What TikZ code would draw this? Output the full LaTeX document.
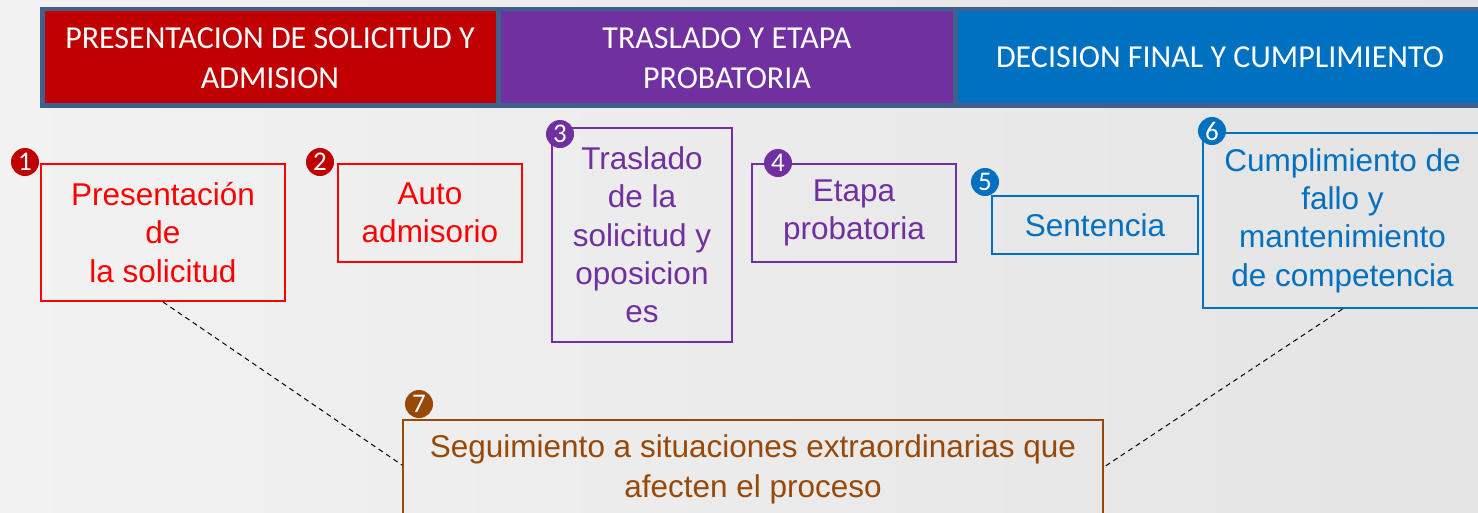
\documentclass[tikz,border=0pt]{standalone}
\usepackage{fontspec}
\setmainfont{Liberation Sans}
\newfontfamily\hdr{Carlito}
\definecolor{bgA}{HTML}{F2F2F2}
\definecolor{bgB}{HTML}{E4E4E4}
\definecolor{frame}{HTML}{3F608A}
\definecolor{phRed}{HTML}{C00000}
\definecolor{phPur}{HTML}{7030A0}
\definecolor{phBlu}{HTML}{0070C0}
\definecolor{bxRed}{HTML}{FF0000}
\definecolor{bxBrn}{HTML}{984807}
\tikzset{
  phase/.style={fill=#1, draw=none, text=white, align=center, inner sep=0pt,
    minimum height=92pt, font=\hdr\fontsize{32}{40.5}\selectfont},
  stepbox/.style={draw=#1, line width=2pt, text=#1, align=center, inner sep=0pt,
    font=\fontsize{31.5}{38.3}\selectfont},
  badge/.style={circle, fill=#1, text=white, inner sep=0pt, minimum size=28pt,
    font=\hdr\fontsize{27}{27}\selectfont},
  link/.style={draw=black, line width=1pt, dash pattern=on 5pt off 4pt}
}
\begin{document}
\begin{tikzpicture}[x=1pt,y=-1pt]
\useasboundingbox (0,0) rectangle (1478,512);
\shade[left color=bgA, right color=bgB] (0,0) rectangle (1478,512);
% header band
\fill[frame] (40,7) rectangle (1490,108);
\node[phase=phRed, minimum width=451pt] (ph1) at (270.5,57) {};
\node[text=white, align=center, inner sep=0pt, font=\hdr\fontsize{32}{40.5}\selectfont] (ph1t) at (270,58) {PRESENTACION DE SOLICITUD Y\\ADMISION};
\node[phase=phPur, minimum width=452pt] (ph2) at (727,57) {};
\node[text=white, align=center, inner sep=0pt, font=\hdr\fontsize{32}{40.5}\selectfont] (ph2t) at (727,58) {TRASLADO Y ETAPA\\PROBATORIA};
\node[phase=phBlu, minimum width=532pt] (ph3) at (1224,57) {};
\node[text=white, inner sep=0pt, font=\hdr\fontsize{32}{40.5}\selectfont] (ph3t) at (1220,57) {DECISION FINAL Y CUMPLIMIENTO};
% step boxes
\node[stepbox=bxRed, minimum width=244pt, minimum height=137pt] (b1) at (163,232.5) {Presentación\\de\\la solicitud};
\node[stepbox=bxRed, minimum width=184pt, minimum height=98pt] (b2) at (430,213) {Auto\\admisorio};
\node[stepbox=phPur, minimum width=180pt, minimum height=214pt] (b3) at (642,235) {Traslado\\de la\\solicitud y\\oposicion\\es};
\node[stepbox=phPur, minimum width=204pt, minimum height=98pt] (b4) at (854,213) {Etapa\\probatoria};
\node[stepbox=phBlu, minimum width=206pt, minimum height=58pt] (b5) at (1095,225) {Sentencia};
\node[stepbox=phBlu, minimum width=279pt, minimum height=175pt] (b6) at (1342.5,220.5) {Cumplimiento de\\fallo y\\mantenimiento\\de competencia};
\node[stepbox=bxBrn, minimum width=700pt, minimum height=110pt] (b7) at (753,475) {};
\node[text=bxBrn, align=center, inner sep=0pt, font=\fontsize{31.5}{40}\selectfont] (b7t) at (753,469.5) {Seguimiento a situaciones extraordinarias que\\afecten el proceso};
% badges
\node[badge=phRed] (n1) at (25,162) {1};
\node[badge=phRed] (n2) at (320,162) {2};
\node[badge=phPur] (n3) at (560,134) {3};
\node[badge=phPur] (n4) at (778,163) {4};
\node[badge=phBlu] (n5) at (985,182) {5};
\node[badge=phBlu] (n6) at (1212,131) {6};
\node[badge=bxBrn] (n7) at (419,404) {7};
% connectors
\draw[link] (b1.south) -- ([yshift=10pt]b7.west);
\draw[link] (b6.south) -- ([yshift=8pt]b7.east);
\end{tikzpicture}
\end{document}
